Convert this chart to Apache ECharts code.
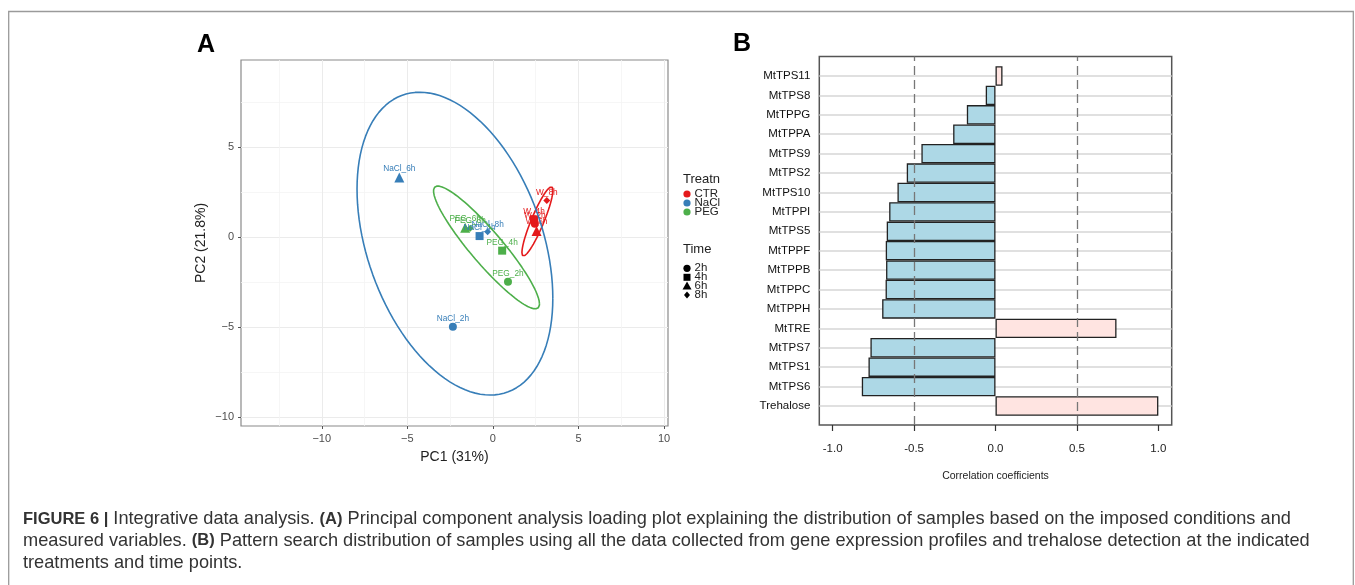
<!DOCTYPE html>
<html><head><meta charset="utf-8">
<script src="https://cdn.jsdelivr.net/npm/echarts@6/dist/echarts.min.js"></script>
<style>html,body{margin:0;padding:0;background:#fff}#c{width:1355px;height:585px}</style>
</head><body><div id="c"></div>
<script>
// ---------- Panel A data (PCA) ----------
const samples   = ['W_2h','W_4h','W_6h','W_8h','NaCl_2h','NaCl_4h','NaCl_6h','NaCl_8h','PEG_2h','PEG_4h','PEG_6h','PEG_8h'];
const sampleTrt = [0,0,0,0,1,1,1,1,2,2,2,2];
const sampleTime= [0,1,2,3,0,1,2,3,0,1,2,3];
const pc1 = [2.45, 2.40, 2.55, 3.15, -2.34, -0.78, -5.47, -0.31, 0.88, 0.54, -1.62, -1.33];
const pc2 = [0.75, 1.00, 0.35, 2.05, -4.97, 0.07, 3.33, 0.31, -2.47, -0.74, 0.53, 0.50];
const treatments = ['CTR','NaCl','PEG'];
const treatmentColors = ['#E41A1C','#377EB8','#4DAF4A'];
const times = ['2h','4h','6h','8h'];
const timeSymbols = ['circle','rect','triangle','diamond'];
const timeSymbolSizes = [8,8,10,7];
// confidence ellipses: centre x, centre y, x half-extent, y half-extent, correlation
const ellCx = [2.60, -2.22, -0.375];
const ellCy = [0.885, -0.35, -0.56];
const ellWx = [0.905, 5.72, 3.095];
const ellWy = [1.925, 8.41, 3.41];
const ellR  = [0.90, -0.36, -0.92];
const pcaXTicks = [-10,-5,0,5,10];
const pcaYTicks = [-10,-5,0,5];

// ---------- Panel B data (correlation) ----------
const genes = ['MtTPS11','MtTPS8','MtTPPG','MtTPPA','MtTPS9','MtTPS2','MtTPS10','MtTPPI','MtTPS5','MtTPPF','MtTPPB','MtTPPC','MtTPPH','MtTRE','MtTPS7','MtTPS1','MtTPS6','Trehalose'];
const corr  = [0.043, -0.06, -0.176, -0.26, -0.455, -0.545, -0.602, -0.653, -0.668, -0.674, -0.672, -0.675, -0.696, 0.743, -0.768, -0.78, -0.821, 1.0];
const corrTicks = [-1,-0.5,0,0.5,1];
const corrRefLines = [-0.5, 0.5];

const FONT = 'Liberation Sans, Arial, sans-serif';
const minus = v => String(v).replace('-', '\u2212');

const chart = echarts.init(document.getElementById('c'), null, {renderer:'canvas'});

const series = [];
// scatter per treatment
treatments.forEach((t, ti) => {
  const data = [];
  samples.forEach((s, i) => { if (sampleTrt[i] === ti) data.push([pc1[i], pc2[i], s, sampleTime[i]]); });
  series.push({
    type:'scatter', name:t, xAxisIndex:0, yAxisIndex:0, data,
    symbol: v => timeSymbols[v[3]],
    symbolSize: v => timeSymbolSizes[v[3]],
    itemStyle:{color:treatmentColors[ti], opacity:1},
    label:{show:true, position:'top', distance:0, fontSize:8.3, fontFamily:FONT, color:treatmentColors[ti], formatter:p => p.data[2]},
    z:3, silent:true
  });
});
// ellipses
treatments.forEach((t, ti) => {
  const pts = [];
  const N = 120;
  const s = Math.sqrt(1 - ellR[ti]*ellR[ti]);
  for (let k = 0; k <= N; k++) {
    const a = 2*Math.PI*k/N;
    pts.push([ellCx[ti] + ellWx[ti]*Math.cos(a), ellCy[ti] + ellWy[ti]*(ellR[ti]*Math.cos(a) + s*Math.sin(a))]);
  }
  series.push({type:'line', xAxisIndex:0, yAxisIndex:0, data:pts, showSymbol:false, symbol:'none', smooth:false,
    lineStyle:{color:treatmentColors[ti], width:1.6}, z:4, silent:true, animation:false});
});
// reference dashed lines on the frame grid
series.push({type:'line', xAxisIndex:1, yAxisIndex:1, data:[], silent:true,
  markLine:{symbol:'none', silent:true, label:{show:false}, animation:false,
    lineStyle:{color:'#777', width:1.3, type:[9,5]},
    data: corrRefLines.map(v => ({xAxis:v}))}});
// bars
series.push({type:'bar', xAxisIndex:2, yAxisIndex:2, clip:false, barCategoryGap:'0%',
  data: corr.map(v => ({value:v, itemStyle:{color: v >= 0 ? '#FFE4E1' : '#ADD8E6'}})),
  itemStyle:{borderColor:'#222', borderWidth:1.3}, silent:true, z:3});

// legend graphics
const G = [];
G.push({type:'text', left:683, top:173, style:{text:'Treatn', font:'13px '+FONT, fill:'#222'}});
treatments.forEach((t,i) => {
  const y = 194 + i*9;
  G.push({type:'circle', shape:{cx:687, cy:y, r:3.6}, style:{fill:treatmentColors[i]}});
  G.push({type:'text', x:694.5, y:y, style:{text:t, font:'11.5px '+FONT, fill:'#222', verticalAlign:'middle'}});
});
G.push({type:'text', left:683, top:243, style:{text:'Time', font:'13px '+FONT, fill:'#222'}});
const ty = [268.3, 277.3, 286, 295];
times.forEach((t,i) => {
  const y = ty[i], cx = 687;
  if (i===0) G.push({type:'circle', shape:{cx, cy:y, r:3.6}, style:{fill:'#000'}});
  if (i===1) G.push({type:'rect', shape:{x:cx-3.5, y:y-3.5, width:7, height:7}, style:{fill:'#000'}});
  if (i===2) G.push({type:'polygon', shape:{points:[[cx,y-4.5],[cx+4.5,y+3.5],[cx-4.5,y+3.5]]}, style:{fill:'#000'}});
  if (i===3) G.push({type:'polygon', shape:{points:[[cx,y-3.5],[cx+3,y],[cx,y+3.5],[cx-3,y]]}, style:{fill:'#000'}});
  G.push({type:'text', x:694.5, y:y, style:{text:t, font:'11.5px '+FONT, fill:'#222', verticalAlign:'middle'}});
});
// panel letters
G.push({type:'text', x:206, y:45, style:{text:'A', font:'bold 25px '+FONT, fill:'#000', align:'center', verticalAlign:'middle'}});
G.push({type:'text', x:742, y:44, style:{text:'B', font:'bold 25px '+FONT, fill:'#000', align:'center', verticalAlign:'middle'}});
// outer figure frame
G.push({type:'polyline', shape:{points:[[8.7,585],[8.7,11.5],[1353.3,11.5],[1353.3,585]]}, style:{stroke:'#9a9a9a', lineWidth:1.3, fill:null}});
// caption
G.push({type:'text', left:23, top:508.5, style:{
  text:'{b|FIGURE 6 |} Integrative data analysis. {b|(A)} Principal component analysis loading plot explaining the distribution of samples based on the imposed conditions and\nmeasured variables. {b|(B)} Pattern search distribution of samples using all the data collected from gene expression profiles and trehalose detection at the indicated\ntreatments and time points.',
  font:'18.2px '+FONT, fill:'#333', lineHeight:21.6,
  rich:{b:{fontWeight:'bold', fontSize:16.5, fontFamily:FONT, fill:'#333', lineHeight:21.6}}
}});

const option = {
  animation:false,
  backgroundColor:'#fff',
  grid:[
    {left:241, top:60, width:427, height:366, show:true, borderColor:'#8a8a8a', borderWidth:1.2, backgroundColor:'transparent', containLabel:false, outerBoundsMode:'none'},
    {left:819.3, top:56.5, width:352.4, height:368.5, show:true, borderColor:'#555', borderWidth:1.5, backgroundColor:'transparent', containLabel:false, outerBoundsMode:'none'},
    {left:819.3, top:76, width:352.4, height:330, containLabel:false, outerBoundsMode:'none'}
  ],
  xAxis:[
    {gridIndex:0, type:'value', min:-14.72, max:10.23, splitNumber:5,
     name:'PC1 (31%)', nameLocation:'middle', nameGap:24.5, nameMoveOverlap:false,
     nameTextStyle:{fontSize:14, fontFamily:FONT, color:'#222'},
     axisLine:{show:false, onZero:false},
     axisTick:{show:true, length:3, lineStyle:{color:'#555'}, customValues:pcaXTicks},
     axisLabel:{fontSize:11, fontFamily:FONT, color:'#4d4d4d', margin:7, customValues:pcaXTicks, formatter:minus},
     splitLine:{show:true, lineStyle:{color:'#ebebeb', width:1}},
     minorTick:{show:false, splitNumber:2},
     minorSplitLine:{show:true, lineStyle:{color:'#f4f4f4', width:0.8}}},
    {gridIndex:1, type:'value', min:-1.082, max:1.082, splitNumber:5,
     name:'Correlation coefficients', nameLocation:'middle', nameGap:46, nameMoveOverlap:false,
     nameTextStyle:{fontSize:10.5, fontFamily:FONT, color:'#222'},
     axisLine:{show:false, onZero:false},
     axisTick:{show:true, length:6, lineStyle:{color:'#333', width:1.2}, customValues:corrTicks},
     axisLabel:{fontSize:11.5, fontFamily:FONT, color:'#222', margin:17.5, customValues:corrTicks, formatter:v => v.toFixed(1)},
     splitLine:{show:false}},
    {gridIndex:2, type:'value', min:-1.082, max:1.082, show:false, splitLine:{show:false}, axisLine:{onZero:false}}
  ],
  yAxis:[
    {gridIndex:0, type:'value', min:-10.48, max:9.85, splitNumber:5,
     name:'PC2 (21.8%)', nameLocation:'middle', nameGap:33, nameMoveOverlap:false,
     nameTextStyle:{fontSize:14, fontFamily:FONT, color:'#222'},
     axisLine:{show:false, onZero:false},
     axisTick:{show:true, length:3, lineStyle:{color:'#555'}, customValues:pcaYTicks},
     axisLabel:{fontSize:11, fontFamily:FONT, color:'#4d4d4d', margin:7, customValues:pcaYTicks, formatter:minus},
     splitLine:{show:true, lineStyle:{color:'#ebebeb', width:1}},
     minorTick:{show:false, splitNumber:2},
     minorSplitLine:{show:true, lineStyle:{color:'#f4f4f4', width:0.8}}},
    {gridIndex:1, type:'value', min:0, max:1, show:false, splitLine:{show:false}, axisLine:{onZero:false}},
    {gridIndex:2, type:'category', data:genes, inverse:true, boundaryGap:false,
     axisLine:{show:false, onZero:false}, axisTick:{show:false},
     axisLabel:{interval:0, fontSize:11.5, fontFamily:FONT, color:'#111', margin:9},
     splitLine:{show:true, interval:0, lineStyle:{color:'#d6d6d6', width:1.5}}}
  ],
  series,
  graphic:G
};
chart.setOption(option);
</script></body></html>
